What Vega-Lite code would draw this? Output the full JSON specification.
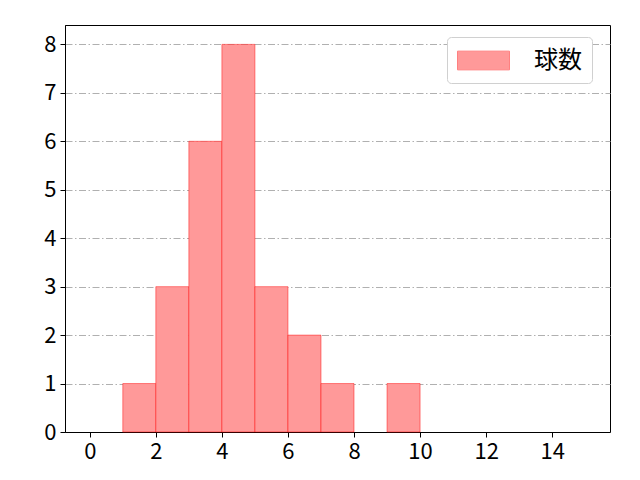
{
  "$schema": "https://vega.github.io/schema/vega-lite/v6.json",
  "width": 545,
  "height": 407,
  "autosize": {"type": "none"},
  "padding": {"left": 65, "top": 25, "right": 30, "bottom": 48},
  "background": "white",
  "config": {
    "view": {"stroke": "black", "strokeWidth": 1},
    "font": "Noto Sans CJK JP",
    "axis": {
      "labelFont": "Noto Sans CJK JP",
      "labelFontSize": 22,
      "labelColor": "black",
      "tickColor": "black",
      "tickSize": 5,
      "domainColor": "black",
      "labelPadding": 4
    }
  },
  "data": {
    "values": [
      {"bin_start": 1, "bin_end": 2, "count": 1, "series": "球数"},
      {"bin_start": 2, "bin_end": 3, "count": 3, "series": "球数"},
      {"bin_start": 3, "bin_end": 4, "count": 6, "series": "球数"},
      {"bin_start": 4, "bin_end": 5, "count": 8, "series": "球数"},
      {"bin_start": 5, "bin_end": 6, "count": 3, "series": "球数"},
      {"bin_start": 6, "bin_end": 7, "count": 2, "series": "球数"},
      {"bin_start": 7, "bin_end": 8, "count": 1, "series": "球数"},
      {"bin_start": 9, "bin_end": 10, "count": 1, "series": "球数"}
    ]
  },
  "mark": {
    "type": "rect",
    "stroke": "#ff0000",
    "strokeOpacity": 0.45,
    "strokeWidth": 1
  },
  "encoding": {
    "x": {
      "field": "bin_start",
      "type": "quantitative",
      "title": null,
      "scale": {"domain": [-0.75, 15.75], "nice": false, "zero": false},
      "axis": {"values": [0, 2, 4, 6, 8, 10, 12, 14], "grid": false}
    },
    "x2": {"field": "bin_end"},
    "y": {
      "field": "count",
      "type": "quantitative",
      "title": null,
      "scale": {"domain": [0, 8.4], "nice": false},
      "axis": {
        "values": [0, 1, 2, 3, 4, 5, 6, 7, 8],
        "grid": true,
        "gridColor": "#b0b0b0",
        "gridDash": [7, 2.5, 1.5, 2.5],
        "gridWidth": 1
      }
    },
    "y2": {"datum": 0},
    "fill": {
      "field": "series",
      "type": "nominal",
      "scale": {"range": ["#ff9999"]},
      "legend": {
        "title": null,
        "orient": "none",
        "legendX": 382,
        "legendY": 12,
        "symbolType": "M-1,-0.72L3,-0.72L3,0.72L-1,0.72Z",
        "symbolSize": 676,
        "symbolStrokeColor": "#ff8080",
        "symbolStrokeWidth": 1,
        "labelFont": "Noto Sans CJK JP",
        "labelFontSize": 24,
        "labelColor": "black",
        "labelOffset": 50,
        "padding": 10,
        "fillColor": "white",
        "strokeColor": "#d0d0d0",
        "cornerRadius": 4
      }
    }
  }
}
